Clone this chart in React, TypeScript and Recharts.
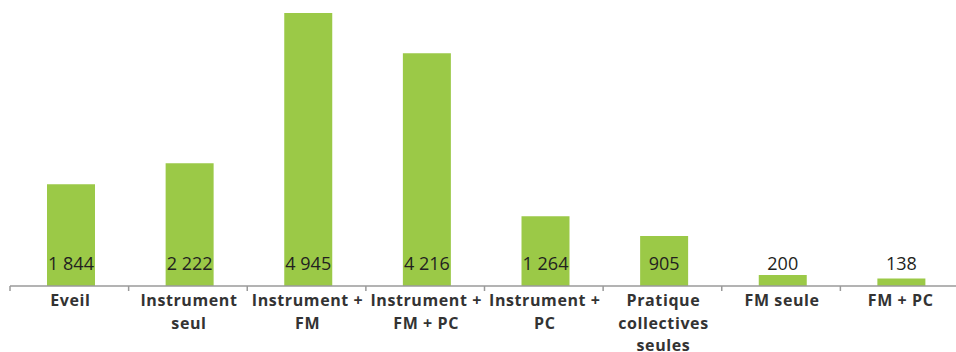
import { BarChart, Bar, XAxis, YAxis, LabelList, Rectangle } from "recharts";

/* enrolment by type of course */
const categories = [
  "Eveil",
  "Instrument\nseul",
  "Instrument +\nFM",
  "Instrument +\nFM + PC",
  "Instrument +\nPC",
  "Pratique\ncollectives\nseules",
  "FM seule",
  "FM + PC",
];
const students = [1844, 2222, 4945, 4216, 1264, 905, 200, 138];

const rows = categories.map((name, i) => ({ name, students: students[i] }));

const WIDTH = 960;
const HEIGHT = 352;
const MARGIN = { top: 10, right: 1, left: 10, bottom: 0 };
const BAND = (WIDTH - MARGIN.left - MARGIN.right) / categories.length;
const NUDGE = 2; // bars sit a touch right of the band centre
const FONT = "'Open Sans', 'DejaVu Sans', sans-serif";

/* 1844 -> "1 844" */
const fmt = (n: number) => String(n).replace(/\B(?=(\d{3})+(?!\d))/g, " ");

function CategoryTick(props: any) {
  const { x, y, payload } = props;
  const lines = String(payload.value).split("\n");
  return (
    <g>
      {/* separators sit on the band edges, not the centres */}
      <line x1={x - BAND / 2} x2={x - BAND / 2} y1={y} y2={y + 5} stroke="#9a9a9a" strokeWidth={1.5} />
      {lines.map((l, i) => (
        <text
          key={i}
          x={x + 1}
          y={y + 14 + i * 22.5}
          textAnchor="middle"
          dominantBaseline="central"
          fontFamily={FONT}
          fontWeight={700}
          fontSize={16}
          letterSpacing={0.6}
          fill="#333"
        >
          {l}
        </text>
      ))}
    </g>
  );
}

function ShiftedBar(props: any) {
  return <Rectangle {...props} x={props.x + NUDGE} />;
}

function ValueLabel(props: any) {
  const { x, y, width, height, value } = props;
  return (
    <text
      x={x + width / 2 + NUDGE}
      y={y + height - 23}
      textAnchor="middle"
      dominantBaseline="central"
      fontFamily={FONT}
      fontSize={18}
      fill="#231f20"
    >
      {fmt(value)}
    </text>
  );
}

export default function App() {
  return (
    <div style={{ position: "absolute", left: 0, top: 0, width: 956, height: HEIGHT, overflow: "hidden", background: "#fff" }}>
      <BarChart width={WIDTH} height={HEIGHT} data={rows} margin={MARGIN}>
        <XAxis
          dataKey="name"
          height={66}
          interval={0}
          tickLine={false}
          tickSize={0}
          tickMargin={0}
          axisLine={{ stroke: "#9a9a9a", strokeWidth: 1.5 }}
          tick={<CategoryTick />}
        />
        <YAxis hide domain={[0, 5000]} />
        <Bar dataKey="students" fill="#9bc947" barSize={48} shape={<ShiftedBar />} isAnimationActive={false}>
          <LabelList dataKey="students" content={<ValueLabel />} />
        </Bar>
      </BarChart>
    </div>
  );
}
